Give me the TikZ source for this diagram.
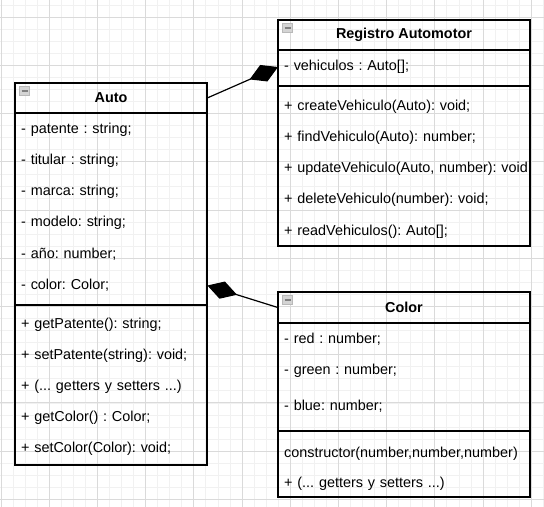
\documentclass[tikz,border=0pt]{standalone}
\usepackage{fontspec}
\setmainfont{Liberation Sans}
\usetikzlibrary{arrows.meta}
\definecolor{gridmajor}{RGB}{218,218,218}
\definecolor{gridminor}{RGB}{241,241,241}
\definecolor{iconfill}{RGB}{212,212,212}
\definecolor{iconline}{RGB}{185,185,185}
\definecolor{iconbar}{RGB}{128,128,128}
\tikzset{
  txt/.style={font=\fontsize{14.45}{17}\selectfont\frenchspacing},
  boxline/.style={draw=black, line width=1.2bp},
  sepline/.style={draw=black, line width=1.2bp},
  head/.style={font=\fontsize{14.45}{17}\selectfont\bfseries, minimum width=#1, minimum height=30bp, inner sep=0pt, anchor=center},
  row/.style={txt, anchor=west, inner xsep=6bp, inner ysep=0pt, text height=10.3bp, text depth=3bp, text width=#1, align=left},
  conn/.style={draw=black, line width=1.2bp, -{Diamond[length=31bp,width=18bp]}},
  minorgrid/.style={draw=gridminor, line width=0.8bp},
  majorgrid/.style={draw=gridmajor, line width=0.9bp},
  iconbox/.style={fill=iconfill, draw=iconline, line width=0.8bp},
  iconminus/.style={draw=iconbar, line width=1.6bp}
}
\begin{document}
\begin{tikzpicture}[x=1bp,y=-1bp]
\useasboundingbox (0,0) rectangle (544,507);
\fill[white] (0,0) rectangle (544,507);
% grid
\foreach \i in {0,...,45} {\draw[minorgrid] (1+\i*12.05,0) -- (1+\i*12.05,507);}
\foreach \i in {0,...,41} {\draw[minorgrid] (0,5.25+\i*12.05) -- (544,5.25+\i*12.05);}
\foreach \i in {0,...,11} {\draw[majorgrid] (1+\i*48.2,0) -- (1+\i*48.2,507);}
\foreach \i in {0,...,10} {\draw[majorgrid] (0,17.3+\i*48.2) -- (544,17.3+\i*48.2);}

% ---------- Auto ----------
\draw[boxline] (15,83) rectangle (207,465);
\draw[sepline] (15,113) -- (207,113);
\draw[sepline] (15,305) -- (207,305);
\node[head=192bp] (autoHead) at (111,98) {Auto};
\draw[iconbox] (19.5,86.5) rectangle (29.5,95.5);
\draw[iconminus] (21.5,91) -- (27.5,91);
\node[row=180bp] (autoPat) at (15,130) {- patente : string;};
\node[row=180bp] (autoTit) at (15,161.1) {- titular : string;};
\node[row=180bp] (autoMar) at (15,192.2) {- marca: string;};
\node[row=180bp] (autoMod) at (15,223.3) {- modelo: string;};
\node[row=180bp] (autoAno) at (15,254.4) {- año: number;};
\node[row=180bp] (autoCol) at (15,285.5) {- color: Color;};
\node[row=180bp] (autoM1) at (15,324.5) {+ getPatente(): string;};
\node[row=180bp] (autoM2) at (15,355.6) {+ setPatente(string): void;};
\node[row=180bp] (autoM3) at (15,386.7) {+ (... getters y setters ...)};
\node[row=180bp] (autoM4) at (15,417.8) {+ getColor() : Color;};
\node[row=180bp] (autoM5) at (15,448.9) {+ setColor(Color): void;};

% ---------- Registro Automotor ----------
\draw[boxline] (278,20) rectangle (530,246);
\draw[sepline] (278,50) -- (530,50);
\draw[sepline] (278,86) -- (530,86);
\node[head=252bp] (regHead) at (404,35) {Registro Automotor};
\draw[iconbox] (282.5,23.5) rectangle (292.5,32.5);
\draw[iconminus] (284.5,28) -- (290.5,28);
\node[row=240bp] (regVeh) at (278,67) {- vehiculos : Auto[];};
\node[row=240bp] (regM1) at (278,107) {+ createVehiculo(Auto): void;};
\node[row=240bp] (regM2) at (278,138.1) {+ findVehiculo(Auto): number;};
\node[row=240bp] (regM3) at (278,169.2) {\mbox{+ updateVehiculo(Auto, number): void;}};
\node[row=240bp] (regM4) at (278,200.3) {+ deleteVehiculo(number): void;};
\node[row=240bp] (regM5) at (278,231.4) {+ readVehiculos(): Auto[];};

% ---------- Color ----------
\draw[boxline] (278,292) rectangle (530,497);
\draw[sepline] (278,323) -- (530,323);
\draw[sepline] (278,431) -- (530,431);
\node[head=252bp] (colHead) at (404,307.5) {Color};
\draw[iconbox] (282.5,295.5) rectangle (292.5,304.5);
\draw[iconminus] (284.5,300) -- (290.5,300);
\node[row=240bp] (colRed) at (278,340) {- red : number;};
\node[row=240bp] (colGreen) at (278,371) {- green : number;};
\node[row=240bp] (colBlue) at (278,407) {- blue: number;};
\node[row=240bp] (colM1) at (278,454) {constructor(number,number,number)};
\node[row=240bp] (colM2) at (278,484) {+ (... getters y setters ...)};

% ---------- connectors ----------
\draw[conn] (autoHead.east) -- (regVeh.west);
\draw[conn] (colHead.west) -- (autoCol.east);
\end{tikzpicture}
\end{document}
